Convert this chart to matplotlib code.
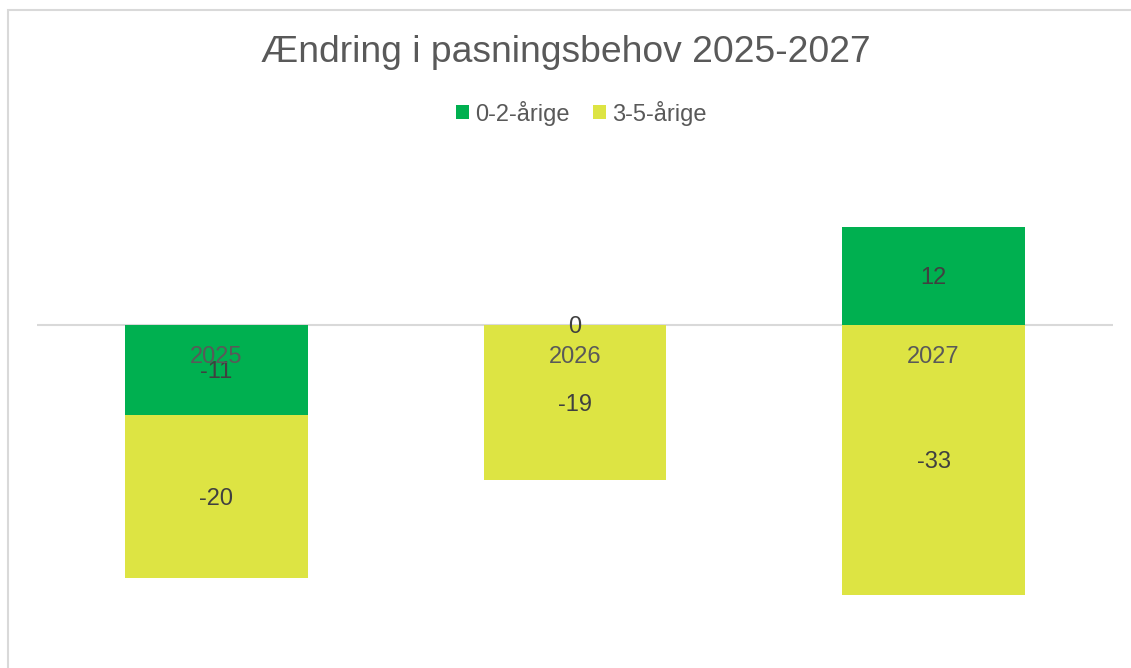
import numpy as np
import matplotlib.pyplot as plt
from matplotlib.patches import Rectangle

plt.rcParams['font.family'] = ['Liberation Sans', 'DejaVu Sans']

# Data
years = ['2025', '2026', '2027']
series_names = ['0-2-årige', '3-5-årige']
age_0_2 = [-11, 0, 12]
age_3_5 = [-20, -19, -33]
colors = ['#00b050', '#dde443']

fig = plt.figure(figsize=(11.31, 6.68), dpi=100)

# light frame around the chart (cut off at right/bottom like the original)
fig.add_artist(Rectangle((8 / 1131, -0.05), 1.2, 1 - 10 / 668 + 0.05,
                         transform=fig.transFigure, fill=False,
                         edgecolor='#d9d9d9', linewidth=1.5))

ax = fig.add_axes([37 / 1131, 1 - 652 / 668, 1076 / 1131, 490.8 / 668])

x = np.arange(len(years))
pos_base = np.zeros(len(years))
neg_base = np.zeros(len(years))
for name, vals, col in zip(series_names, [age_0_2, age_3_5], colors):
    vals = np.array(vals, dtype=float)
    bottoms = np.where(vals >= 0, pos_base, neg_base)
    ax.bar(x, vals, bottom=bottoms, width=0.51, color=col, label=name,
           zorder=3)
    for xi, v, b in zip(x, vals, bottoms):
        ax.text(xi, b + v / 2, f'{v:.0f}', ha='center',
                va='center_baseline', fontsize=17, color='#404040', zorder=5)
    pos_base = pos_base + np.where(vals >= 0, vals, 0)
    neg_base = neg_base + np.where(vals < 0, vals, 0)

ax.set_xlim(-0.5, 2.5)
ax.set_ylim(-40, 20)

# zero line (category axis)
ax.axhline(0, color='#d9d9d9', linewidth=1.5, zorder=2)
for s in ax.spines.values():
    s.set_visible(False)
ax.set_xticks([])
ax.set_yticks([])

# category labels just below the zero line, drawn over the bars
for xi, yr in zip(x, years):
    ax.annotate(yr, (xi, 0), xytext=(0, -27.4), textcoords='offset points',
                ha='center', va='baseline', fontsize=17, color='#595959',
                zorder=6)

fig.text(0.5, 1 - 52 / 668, 'Ændring i pasningsbehov 2025-2027',
         ha='center', va='center', fontsize=26.8, color='#595959')

fig.legend(loc='center', bbox_to_anchor=(581 / 1131, 1 - 113 / 668), ncol=2,
           frameon=False, fontsize=17, handlelength=0.55, handleheight=0.55,
           handletextpad=0.25, columnspacing=1.0, labelcolor='#595959')

plt.savefig('out.png', dpi=100)
